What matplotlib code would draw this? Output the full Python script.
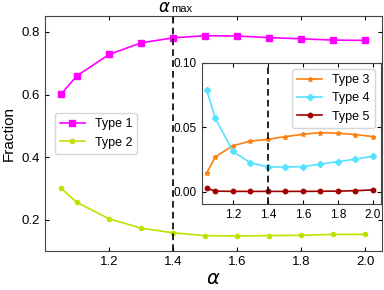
import matplotlib
matplotlib.use("Agg")
import matplotlib.pyplot as plt

plt.rcParams['font.family'] = ['Liberation Sans', 'DejaVu Sans']

alpha = [1.05, 1.1, 1.2, 1.3, 1.4, 1.5, 1.6, 1.7, 1.8, 1.9, 2.0]
type1 = [0.601, 0.660, 0.728, 0.765, 0.781, 0.788, 0.787, 0.782, 0.778, 0.774, 0.773]
type2 = [0.301, 0.256, 0.204, 0.174, 0.159, 0.150, 0.149, 0.150, 0.151, 0.154, 0.154]
type3 = [0.0144, 0.027, 0.0356, 0.0392, 0.0406, 0.0427, 0.0445, 0.0458, 0.0453, 0.0443, 0.0427]
type4 = [0.079, 0.0568, 0.0312, 0.0223, 0.0192, 0.0190, 0.0194, 0.0212, 0.0233, 0.0251, 0.0275]
type5 = [0.0024, 0.0003, 0.0001, 0.0001, 0.0001, 0.0001, 0.0001, 0.0002, 0.0003, 0.0006, 0.0013]
alpha_max = 1.4

fig = plt.figure(figsize=(3.84, 2.90), dpi=100)
ax = fig.add_axes([0.117, 0.1345, 0.878, 0.8105])

ax.plot(alpha, type1, color='#ff00ff', marker='s', ms=4.5, lw=1.2, label='Type 1')
ax.plot(alpha, type2, color='#c3df00', marker='o', ms=3, lw=1.2, label='Type 2')
ax.axvline(alpha_max, color='black', ls='--', lw=1.2, dashes=(4, 2.5))
ax.set_xlim(1.0, 2.053)
ax.set_ylim(0.101, 0.851)
ax.set_xticks([1.2, 1.4, 1.6, 1.8, 2.0])
ax.set_yticks([0.2, 0.4, 0.6, 0.8])
ax.tick_params(direction='in', top=True, right=True, labelsize=9.5, length=3)
ax.set_xlabel(r'$\alpha$', fontsize=14, labelpad=2)
ax.set_ylabel('Fraction', fontsize=11)
ax.annotate(r'$\alpha$', xy=(alpha_max, 1.0), xycoords=('data', 'axes fraction'),
            xytext=(-1.5, 3), textcoords='offset points', ha='right', va='baseline',
            fontsize=12)
ax.annotate('max', xy=(alpha_max, 1.0), xycoords=('data', 'axes fraction'),
            xytext=(-1.5, 3), textcoords='offset points', ha='left', va='baseline',
            fontsize=8)
ax.legend(loc='center left', bbox_to_anchor=(0.0, 0.5), fontsize=9, frameon=True,
          handlelength=2.0, borderaxespad=0.8)
for sp in ax.spines.values():
    sp.set_color('#444444')

ins = fig.add_axes([0.525, 0.2966, 0.467, 0.4864])
ins.plot(alpha, type3, color='#ff7f0e', marker='*', ms=3.5, lw=1.2, label='Type 3')
ins.plot(alpha, type4, color='#55e2ff', marker='D', ms=3.2, lw=1.2, label='Type 4')
ins.plot(alpha, type5, color='#a00000', marker='o', ms=3.2, lw=1.2, label='Type 5')
ins.axvline(alpha_max, color='black', ls='--', lw=1.2, dashes=(4, 2.5))
ins.set_xlim(1.021, 2.046)
ins.set_ylim(-0.0097, 0.1)
ins.set_xticks([1.2, 1.4, 1.6, 1.8, 2.0])
ins.set_yticks([0.0, 0.05, 0.10])
ins.set_yticklabels(['0.00', '0.05', '0.10'])
ins.tick_params(direction='in', top=True, right=True, labelsize=8.5, length=3)
ins.legend(loc='upper right', fontsize=9, frameon=True, handlelength=2.0)
for sp in ins.spines.values():
    sp.set_color('#444444')

fig.savefig('out.png', dpi=100)
